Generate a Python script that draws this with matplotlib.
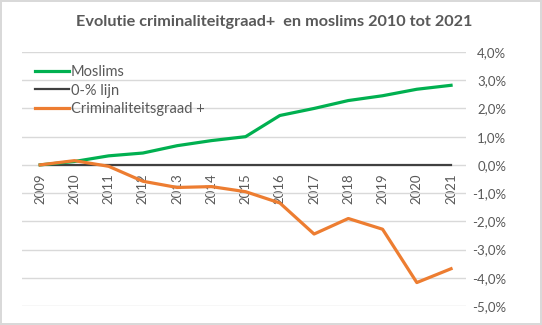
import matplotlib.pyplot as plt
from matplotlib.ticker import FuncFormatter

# data (percent)
years = [2009, 2010, 2011, 2012, 2013, 2014, 2015, 2016, 2017, 2018, 2019, 2020, 2021]
moslims = [0.0, 0.12, 0.32, 0.42, 0.68, 0.86, 1.0, 1.75, 2.0, 2.28, 2.45, 2.68, 2.82]
nul_lijn = [0.0] * len(years)
criminaliteit = [0.0, 0.15, -0.05, -0.58, -0.8, -0.77, -0.95, -1.35, -2.45, -1.9, -2.28, -4.17, -3.68]
y_ticks = [4, 3, 2, 1, 0, -1, -2, -3, -4, -5]

TEXT = "#595959"
plt.rcParams["font.family"] = ["Lato", "DejaVu Sans"]

fig = plt.figure(figsize=(5.42, 3.25), dpi=100)
fig.patch.set_edgecolor("#D9D9D9")
fig.patch.set_linewidth(1.5)
ax = fig.add_axes([0.0406, 0.0585, 0.8194, 0.7815])

ax.plot(years, moslims, color="#00B050", lw=2.3, label="Moslims", zorder=3)
ax.plot(years, nul_lijn, color="#404040", lw=1.6, label="0-% lijn", zorder=2)
ax.plot(years, criminaliteit, color="#ED7D31", lw=2.3, label="Criminaliteitsgraad +", zorder=4)

ax.set_xlim(2008.47, 2021.44)
ax.set_ylim(-5, 4)
for s in ax.spines.values():
    s.set_visible(False)
ax.spines["bottom"].set_position(("data", 0))

ax.set_yticks(y_ticks)
ax.yaxis.tick_right()
ax.yaxis.set_major_formatter(FuncFormatter(lambda v, p: f"{v:.1f}%".replace(".", ",")))
ax.tick_params(axis="y", length=0, pad=29, labelsize=9.5, labelcolor=TEXT)
for lbl in ax.get_yticklabels():
    lbl.set_horizontalalignment("right")

ax.set_xticks(years)
ax.set_xticklabels([str(y) for y in years])
ax.tick_params(axis="x", length=0, pad=6, labelsize=9.5, labelcolor=TEXT, labelrotation=90)

ax.grid(axis="y", color="#D9D9D9", lw=1)
ax.set_axisbelow(True)

leg = ax.legend(loc="upper left", bbox_to_anchor=(0.0, 1.0), frameon=False,
                fontsize=10.5, handlelength=2.3, handletextpad=0.15,
                labelspacing=0.3, borderaxespad=0.5)
for t in leg.get_texts():
    t.set_color(TEXT)

fig.text(0.506, 0.932, "Evolutie criminaliteitgraad+  en moslims 2010 tot 2021",
         ha="center", va="center", fontsize=11.7, fontweight="bold", color=TEXT)

fig.savefig("out.png", dpi=100)
